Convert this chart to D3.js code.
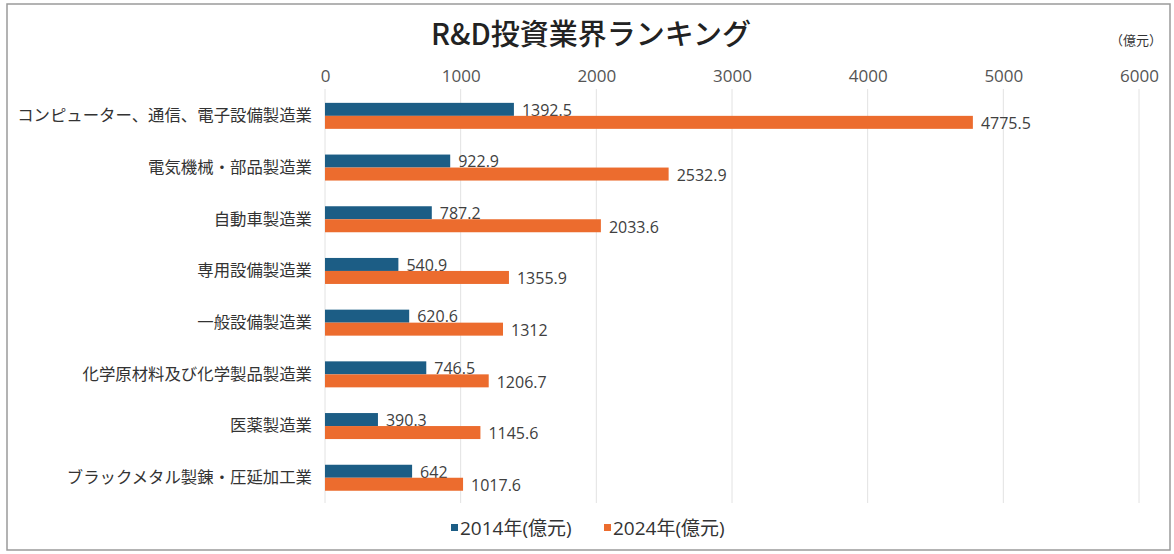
<!DOCTYPE html>
<html>
<head>
<meta charset="utf-8">
<script src="https://cdn.jsdelivr.net/npm/d3@7"></script>
<style>
  body { margin: 0; background: #fff; }
  svg { display: block; font-family: "Open Sans", "Noto Sans CJK JP", sans-serif; }
</style>
</head>
<body>
<svg id="chart"></svg>
<script>
var categories = [
  "コンピューター、通信、電子設備製造業",
  "電気機械・部品製造業",
  "自動車製造業",
  "専用設備製造業",
  "一般設備製造業",
  "化学原材料及び化学製品製造業",
  "医薬製造業",
  "ブラックメタル製錬・圧延加工業"
];
var values2014 = [1392.5, 922.9, 787.2, 540.9, 620.6, 746.5, 390.3, 642];
var values2024 = [4775.5, 2532.9, 2033.6, 1355.9, 1312, 1206.7, 1145.6, 1017.6];
var seriesNames = ["2014年(億元)", "2024年(億元)"];
var xTicks = [0, 1000, 2000, 3000, 4000, 5000, 6000];

var svgWidth = 1174, svgHeight = 554;
var colors = ["#1c5d85", "#ec6c2e"];
var numFont = "'Open Sans', 'Noto Sans CJK JP', sans-serif";
var jpFont = "'Noto Sans CJK JP', sans-serif";

var svg = d3.select("#chart")
  .attr("width", svgWidth)
  .attr("height", svgHeight);

// frame
svg.append("rect")
  .attr("x", 7).attr("y", 4)
  .attr("width", 1163).attr("height", 546)
  .attr("fill", "#fff")
  .attr("stroke", "#9a9a9a")
  .attr("stroke-width", 1.5);

var x = d3.scaleLinear().domain([0, 6000]).range([325, 1139]);
var y = d3.scaleBand().domain(categories).range([90, 503.6]);
var barH = 13;

// gridlines
svg.append("g")
  .selectAll("line")
  .data(xTicks)
  .join("line")
  .attr("x1", function(d) { return x(d); })
  .attr("x2", function(d) { return x(d); })
  .attr("y1", 89)
  .attr("y2", 503)
  .attr("stroke", "#e2e2e2")
  .attr("stroke-width", 1);

// top axis labels
var axis = svg.append("g")
  .attr("transform", "translate(0,82)")
  .call(d3.axisTop(x).tickValues(xTicks).tickSize(0).tickPadding(0).tickFormat(d3.format("d")));
axis.select(".domain").remove();
axis.selectAll("text")
  .attr("font-size", 17)
  .attr("fill", "#555")
  .attr("font-family", numFont);

// category labels
var yAxis = svg.append("g")
  .attr("transform", "translate(312,0)")
  .call(d3.axisLeft(y).tickSize(0).tickPadding(0));
yAxis.select(".domain").remove();
yAxis.selectAll("text")
  .attr("font-size", 16.4)
  .attr("fill", "#333")
  .attr("font-family", jpFont);

// bars
var rows = categories.map(function(c, i) {
  return { cat: c, v: [values2014[i], values2024[i]] };
});

var groups = svg.append("g")
  .selectAll("g")
  .data(rows)
  .join("g")
  .attr("transform", function(d) { return "translate(0," + (y(d.cat) + y.bandwidth() / 2 - barH) + ")"; });

[0, 1].forEach(function(s) {
  groups.append("rect")
    .attr("x", x(0))
    .attr("y", s * barH)
    .attr("width", function(d) { return x(d.v[s]) - x(0); })
    .attr("height", barH)
    .attr("fill", colors[s]);

  groups.append("text")
    .attr("x", function(d) { return x(d.v[s]) + 8; })
    .attr("y", s * barH + (s === 0 ? 7 : 7.5))
    .attr("dy", "0.36em")
    .attr("font-size", 16)
    .attr("font-family", numFont)
    .attr("fill", "#404040")
    .text(function(d) { return d.v[s]; });
});

// title
svg.append("text")
  .attr("x", 591)
  .attr("y", 45)
  .attr("text-anchor", "middle")
  .attr("font-size", 29)
  .attr("font-weight", 500)
  .attr("font-family", jpFont)
  .attr("fill", "#222")
  .text("R&D投資業界ランキング");

svg.append("text")
  .attr("x", 1136)
  .attr("y", 45)
  .attr("text-anchor", "middle")
  .attr("font-size", 13)
  .attr("font-family", jpFont)
  .attr("fill", "#333")
  .text("（億元）");

// legend
var legendX = [451, 604];
seriesNames.forEach(function(name, i) {
  svg.append("rect")
    .attr("x", legendX[i]).attr("y", 524)
    .attr("width", 7).attr("height", 7)
    .attr("fill", colors[i]);
  svg.append("text")
    .attr("x", legendX[i] + 9)
    .attr("y", 535)
    .attr("font-size", 19)
    .attr("font-family", numFont)
    .attr("fill", "#333")
    .text(name);
});
</script>
</body>
</html>
